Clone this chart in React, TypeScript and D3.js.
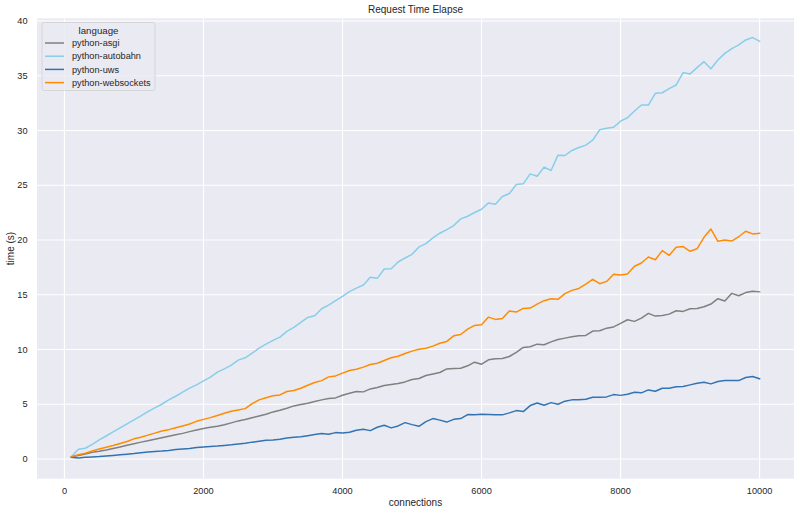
import * as d3 from 'd3';

const connections = d3.range(100, 10001, 100);

const asgi = [
  0.2, 0.32, 0.45, 0.62, 0.7, 0.82, 0.96, 1.1, 1.26, 1.4,
  1.54, 1.66, 1.8, 1.94, 2.08, 2.22, 2.34, 2.5, 2.64, 2.78,
  2.9, 3.0, 3.12, 3.3, 3.48, 3.6, 3.76, 3.93, 4.08, 4.3,
  4.45, 4.64, 4.85, 4.97, 5.09, 5.25, 5.4, 5.52, 5.58, 5.82,
  6.0, 6.16, 6.13, 6.4, 6.53, 6.71, 6.8, 6.89, 7.04, 7.26,
  7.35, 7.62, 7.77, 7.9, 8.23, 8.26, 8.29, 8.51, 8.84, 8.66,
  9.06, 9.15, 9.18, 9.36, 9.73, 10.19, 10.25, 10.49, 10.43, 10.7,
  10.92, 11.04, 11.16, 11.25, 11.28, 11.68, 11.71, 11.95, 12.06, 12.38,
  12.72, 12.57, 12.87, 13.3, 13.05, 13.11, 13.23, 13.54, 13.48, 13.72,
  13.75, 13.9, 14.15, 14.64, 14.43, 15.13, 14.91, 15.2, 15.33, 15.27,
];

const autobahn = [
  0.21, 0.88, 0.98, 1.34, 1.74, 2.1, 2.47, 2.84, 3.2, 3.57,
  3.93, 4.33, 4.67, 5.0, 5.4, 5.73, 6.1, 6.47, 6.77, 7.14,
  7.47, 7.93, 8.23, 8.57, 9.03, 9.24, 9.67, 10.12, 10.49, 10.83,
  11.13, 11.65, 12.02, 12.47, 12.93, 13.08, 13.72, 14.06, 14.46, 14.85,
  15.28, 15.61, 15.89, 16.59, 16.5, 17.35, 17.38, 17.99, 18.36, 18.69,
  19.37, 19.67, 20.19, 20.62, 20.95, 21.32, 21.93, 22.17, 22.51, 22.81,
  23.39, 23.27, 23.97, 24.25, 25.07, 25.13, 26.04, 25.83, 26.66, 26.35,
  27.75, 27.72, 28.18, 28.45, 28.67, 29.12, 30.07, 30.2, 30.3, 30.86,
  31.17, 31.78, 32.33, 32.33, 33.4, 33.45, 33.82, 34.16, 35.29, 35.17,
  35.74, 36.29, 35.65, 36.44, 37.05, 37.48, 37.82, 38.27, 38.49, 38.15,
];

const uws = [
  0.15, 0.1, 0.15, 0.18, 0.22, 0.28, 0.33, 0.38, 0.44, 0.5,
  0.58, 0.64, 0.68, 0.72, 0.78, 0.86, 0.92, 0.96, 1.04, 1.1,
  1.14, 1.18, 1.24, 1.3, 1.38, 1.44, 1.54, 1.62, 1.71, 1.74,
  1.8, 1.92, 1.98, 2.04, 2.13, 2.23, 2.32, 2.26, 2.41, 2.38,
  2.44, 2.62, 2.71, 2.59, 2.9, 3.08, 2.84, 3.02, 3.32, 3.14,
  2.99, 3.41, 3.69, 3.55, 3.37, 3.62, 3.69, 4.06, 4.03, 4.09,
  4.06, 4.03, 4.03, 4.21, 4.42, 4.33, 4.88, 5.12, 4.91, 5.15,
  5.0, 5.28, 5.4, 5.4, 5.46, 5.64, 5.64, 5.67, 5.88, 5.81,
  5.92, 6.1, 6.04, 6.31, 6.19, 6.46, 6.46, 6.59, 6.62, 6.77,
  6.92, 7.01, 6.86, 7.07, 7.16, 7.16, 7.16, 7.44, 7.53, 7.32,
];

const websockets = [
  0.21, 0.38, 0.52, 0.74, 0.92, 1.08, 1.24, 1.42, 1.6, 1.84,
  1.98, 2.18, 2.36, 2.56, 2.68, 2.86, 3.02, 3.2, 3.44, 3.62,
  3.78, 3.98, 4.18, 4.36, 4.48, 4.6, 5.05, 5.4, 5.6, 5.78,
  5.85, 6.16, 6.25, 6.46, 6.74, 6.98, 7.16, 7.5, 7.59, 7.84,
  8.08, 8.2, 8.39, 8.63, 8.75, 9.0, 9.24, 9.39, 9.64, 9.85,
  10.03, 10.12, 10.31, 10.57, 10.74, 11.25, 11.37, 11.86, 12.2, 12.26,
  12.96, 12.75, 12.84, 13.51, 13.42, 13.75, 13.78, 14.15, 14.46, 14.64,
  14.58, 15.1, 15.4, 15.58, 15.98, 16.41, 16.01, 16.22, 16.88, 16.8,
  16.9, 17.6, 17.9, 18.45, 18.2, 19.03, 18.6, 19.33, 19.4, 18.97,
  19.2, 20.25, 21.0, 19.88, 20.0, 19.9, 20.3, 20.8, 20.56, 20.62,
];

const seriesNames = ['python-asgi', 'python-autobahn', 'python-uws', 'python-websockets'];
const seriesValues = [asgi, autobahn, uws, websockets];
const seriesColors = ['#808080', '#87ceeb', '#3274b3', '#ff8c00'];

const xTicks = [0, 2000, 4000, 6000, 8000, 10000];
const yTicks = [0, 5, 10, 15, 20, 25, 30, 35, 40];

const W = 800;
const H = 513;
const left = 37;
const right = 794;
const top = 18.3;
const bottom = 478.7;
const font = '"Liberation Sans", Arial, sans-serif';
const textColor = '#262626';

// matplotlib-style 5% padding around the x data range
const pad = ([a, b]: [number, number]): [number, number] => {
  const m = (b - a) * 0.05;
  return [a - m, b + m];
};

export default function App() {
  const xExt = d3.extent(connections) as [number, number];

  const x = d3.scaleLinear().domain(pad(xExt)).range([left, right]);
  const y = d3.scaleLinear().domain([-1.8, 40.25]).range([bottom, top]);

  const line = d3
    .line<number>()
    .x((_, i) => x(connections[i]))
    .y((d) => y(d));

  return (
    <div style={{ position: 'fixed', left: 0, top: 0 }}>
      <svg width={W} height={H} style={{ display: 'block', background: '#fff' }}>
        <rect x={left} y={top} width={right - left} height={bottom - top} fill="#eaeaf2" />

        {xTicks.map((t) => (
          <line key={'gx' + t} x1={x(t)} x2={x(t)} y1={top} y2={bottom} stroke="#fff" strokeWidth={1.1} />
        ))}
        {yTicks.map((t) => (
          <line key={'gy' + t} x1={left} x2={right} y1={y(t)} y2={y(t)} stroke="#fff" strokeWidth={1.1} />
        ))}

        {seriesValues.map((vals, i) => (
          <path
            key={seriesNames[i]}
            d={line(vals) ?? ''}
            fill="none"
            stroke={seriesColors[i]}
            strokeWidth={1.5}
            strokeLinejoin="round"
            strokeLinecap="square"
          />
        ))}

        {xTicks.map((t) => (
          <text key={'tx' + t} x={x(t)} y={493.5} textAnchor="middle" fontFamily={font} fontSize={9.2} fill={textColor}>
            {t}
          </text>
        ))}
        {yTicks.map((t) => (
          <text key={'ty' + t} x={left - 9.5} y={y(t)} dy="0.35em" textAnchor="end" fontFamily={font} fontSize={9.2} fill={textColor}>
            {t}
          </text>
        ))}

        <text x={(left + right) / 2} y={12.5} textAnchor="middle" fontFamily={font} fontSize={10} fill={textColor}>
          Request Time Elapse
        </text>
        <text x={(left + right) / 2} y={505.5} textAnchor="middle" fontFamily={font} fontSize={10} fill={textColor}>
          connections
        </text>
        <text
          transform={`translate(13.5,${(top + bottom) / 2}) rotate(-90)`}
          textAnchor="middle"
          fontFamily={font}
          fontSize={10}
          fill={textColor}
        >
          time (s)
        </text>

        <g transform="translate(42,22.5)">
          <rect x={0} y={0} width={113} height={68} rx={2} fill="#eaeaf2" fillOpacity={0.8} stroke="#d0d0d0" strokeWidth={0.8} />
          <text x={56.5} y={11.5} textAnchor="middle" fontFamily={font} fontSize={9.7} fill={textColor}>
            language
          </text>
          {seriesNames.map((name, i) => (
            <g key={name} transform={`translate(0,${20.5 + i * 13.2})`}>
              <line x1={3} x2={22} y1={0} y2={0} stroke={seriesColors[i]} strokeWidth={1.5} />
              <text x={30} y={0} dy="0.35em" fontFamily={font} fontSize={9.2} fill={textColor}>
                {name}
              </text>
            </g>
          ))}
        </g>
      </svg>
    </div>
  );
}
